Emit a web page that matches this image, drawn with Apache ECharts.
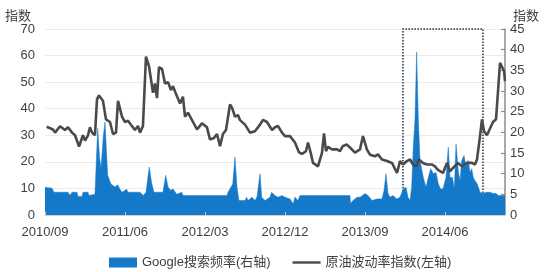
<!DOCTYPE html>
<html>
<head>
<meta charset="utf-8">
<script src="https://cdn.jsdelivr.net/npm/echarts@6/dist/echarts.min.js"></script>
<style>
html,body{margin:0;padding:0;background:#fff;}
#chart{width:550px;height:272px;}
</style>
</head>
<body>
<div id="chart"></div>
<script>
// x values are months since 2010/09
var xTickLabels = ['2010/09', '2011/06', '2012/03', '2012/12', '2013/09', '2014/06'];
var xTickStep = 9;
var xEnd = 51.75;

var leftTicks = [0, 10, 20, 30, 40, 50, 60, 70];
var rightTicks = [0, 5, 10, 15, 20, 25, 30, 35, 40, 45];

// 原油波动率指数 (left axis)
var oilT = [0.19,0.9,1.13,1.69,2.25,2.59,3.04,3.38,3.83,4.27,4.5,4.84,5.06,5.29,5.62,5.85,6.07,6.52,6.86,7.31,7.65,7.99,8.21,8.32,8.66,9.0,9.34,9.67,10.12,10.46,10.69,11.02,11.36,11.7,12.15,12.37,12.6,12.82,13.16,13.5,13.84,14.17,14.4,14.74,15.19,15.52,15.75,16.09,16.65,17.1,17.66,18.22,18.56,19.01,19.35,19.69,20.02,20.36,20.81,21.04,21.37,21.71,21.94,22.16,22.5,23.06,23.62,24.19,24.52,24.97,25.54,25.87,26.21,26.66,27.0,27.56,28.12,28.57,28.91,29.36,29.59,29.92,30.15,30.71,31.16,31.39,31.61,31.84,32.29,32.85,33.19,33.52,33.97,34.31,34.87,35.44,35.77,36.22,36.56,37.12,37.46,37.91,38.47,39.04,39.6,39.94,40.27,40.72,41.06,41.4,41.74,42.07,42.52,42.97,43.54,43.87,44.21,44.77,45.22,45.56,45.9,46.46,46.91,47.48,48.04,48.37,48.6,48.94,49.16,49.39,49.72,50.4,50.74,51.19,51.64,51.75];
var oilV = [33.2,32.2,31,33.4,32,33,31,30,25.8,30,28,30,33,31,30,43.5,45,43,36,35,30.5,31,43,42.3,37,35,35.5,34,32,33.5,31,33.5,59.6,56,46,49.5,44,55.6,55,49.5,50,47,48.5,45.5,42,44.5,37,38.5,35,32.2,34.5,33,28.4,29,30.5,25.9,30.5,32,41.6,40.4,37,37.6,35.7,36,34,31,31.5,34,35.8,35,32,33,33.5,31,29.7,29.7,27.3,23.6,23,24,27.3,23,19.6,18.3,23.4,30.7,24,25.7,24.7,24.7,24,26,26.5,25.4,23.5,24.7,29.7,24.6,22.7,22.1,22.8,20.9,20.3,19.6,15.8,20.3,19,20.3,20.9,19,18.3,20.9,19.6,19,19,18.3,17,15.8,19.6,16.4,17.7,19.6,18.3,19.6,19.6,19,20.9,29.7,36,31.5,30,35,36,57.3,54.2,50.4];

// Google搜索频率 (right axis)
var googleT = [0,0.79,1.01,2.59,2.81,3.04,3.6,3.71,4.16,4.27,4.84,4.95,5.62,5.79,5.93,6.13,6.3,6.56,6.75,7.05,7.42,7.87,8.18,8.44,8.66,9.19,9.34,10.69,11.06,11.36,11.73,12.0,12.26,13.27,13.58,13.84,14.12,14.4,14.82,15.38,15.52,15.86,20.47,20.59,21.12,21.37,21.6,21.82,22.5,22.69,22.84,23.29,23.62,23.85,24.19,24.38,24.75,25.31,25.5,25.87,26.21,26.66,27.0,27.22,27.56,27.93,28.12,28.46,28.69,34.31,34.37,34.65,35.1,35.44,36.0,36.34,36.79,37.35,37.91,38.14,38.36,38.59,38.81,39.15,39.57,39.94,40.31,40.61,40.84,41.06,41.25,41.43,41.62,41.81,42.0,42.19,42.56,42.86,43.12,43.39,43.68,43.99,44.25,44.51,44.77,45.11,45.37,45.56,45.84,46.05,46.24,46.5,46.69,46.88,47.14,47.36,47.62,47.81,48.0,48.18,48.37,48.63,48.94,49.31,49.61,50.06,50.43,50.74,51.0,51.75];
var googleV = [6.7,6.5,5.5,5.5,4.7,5.5,5.5,4.5,4.5,5.5,5.5,4.7,5,5,21,14,11.3,19,22.5,9.6,7.5,6.8,7.3,6.2,5.5,6.2,5.5,5.5,4.7,5.5,11.6,7.7,5.5,5.5,9.6,6.8,6,6.3,5,5.5,4.7,4.7,4.7,5.5,7.5,14,6.7,3.5,3.5,4.3,3.5,4.3,3.5,4.4,10,4.3,3.5,4.3,5.5,4.7,4.3,4.7,4.3,4.7,3.9,2.7,4.3,3.5,4.7,4.7,2.8,3.5,4.3,4.3,5.2,4.7,3.5,3.9,3.9,5.9,10,5.2,4.3,4.7,3.9,4.3,6.3,6.7,4.3,3.5,6.7,16.4,22.9,39.4,22.9,13.2,9.1,6.7,9.1,11.2,10,10.3,7.5,6.3,6.3,9.1,16.4,9.1,9.1,6.3,17.2,10.5,8.3,13.2,14.4,11.8,13.2,10.3,11.2,9.1,8.3,7.5,5.5,5.2,5.5,5.5,5.2,5.2,4.7,4.7];

// highlighted period (months since 2010/09)
var boxRange = [40.27, 49.27];

var seriesNames = ['Google搜索频率(右轴)', '原油波动率指数(左轴)'];
var axisName = '指数';

function zip(a, b) { return a.map(function (t, i) { return [t, b[i]]; }); }

var FONT = "'Liberation Sans', Arial, 'Noto Sans CJK SC', sans-serif";
var BLUE = '#1479c9';
var GREY = '#4a4a4a';
var chart = echarts.init(document.getElementById('chart'), null, {renderer: 'canvas'});
chart.setOption({
  animation: false,
  backgroundColor: '#ffffff',
  textStyle: {fontFamily: FONT},
  grid: {left: 45, right: 45, top: 29, bottom: 57},
  legend: {
    left: 104, top: 251,
    itemWidth: 28, itemHeight: 10, itemGap: 22,
    textStyle: {fontFamily: FONT, fontSize: 13, color: '#404040'},
    data: [
      {name: seriesNames[0], icon: 'rect'},
      {name: seriesNames[1], icon: 'path://M0,0 L30,0 L30,2.6 L0,2.6 Z', itemStyle: {color: GREY}}
    ]
  },
  xAxis: {
    type: 'value', min: 0, max: xEnd, interval: xTickStep, z: 10,
    axisLine: {show: true, lineStyle: {color: '#d0d0d0', width: 1}},
    axisTick: {show: true, inside: true, length: 3, lineStyle: {color: '#c8c8c8'}},
    splitLine: {show: false},
    axisLabel: {
      fontSize: 13, color: '#404040', margin: 11, fontFamily: FONT,
      showMaxLabel: false,
      formatter: function (v) {
        var k = Math.round(v / xTickStep);
        if (Math.abs(v - k * xTickStep) > 1e-6) return '';
        return xTickLabels[k] || '';
      }
    }
  },
  yAxis: [{
    type: 'value', min: leftTicks[0], max: leftTicks[leftTicks.length - 1], interval: leftTicks[1] - leftTicks[0],
    position: 'left',
    name: axisName, nameLocation: 'end', nameGap: 6,
    nameTextStyle: {fontSize: 13, color: '#404040', align: 'right', padding: [0, 14, 0, 0], fontFamily: FONT},
    axisLine: {show: false}, axisTick: {show: false},
    axisLabel: {fontSize: 13, color: '#404040', margin: 10, fontFamily: FONT},
    splitLine: {show: true, lineStyle: {color: '#ebebeb', width: 1}}
  }, {
    type: 'value', min: rightTicks[0], max: rightTicks[rightTicks.length - 1], interval: rightTicks[1] - rightTicks[0],
    position: 'right',
    name: axisName, nameLocation: 'end', nameGap: 6,
    nameTextStyle: {fontSize: 13, color: '#404040', align: 'left', padding: [0, 0, 0, 8], fontFamily: FONT},
    axisLine: {show: true, lineStyle: {color: '#8c8c8c', width: 1.5}},
    axisTick: {show: true, inside: true, length: 4, lineStyle: {color: '#8c8c8c', width: 1.2}},
    axisLabel: {fontSize: 13, color: '#404040', margin: 5, fontFamily: FONT},
    splitLine: {show: false}
  }],
  series: [{
    name: seriesNames[0], type: 'line', yAxisIndex: 1,
    data: zip(googleT, googleV),
    symbol: 'none', z: 2,
    lineStyle: {width: 0.5, color: BLUE},
    itemStyle: {color: BLUE},
    areaStyle: {color: BLUE, opacity: 1}
  }, {
    name: seriesNames[1], type: 'line', yAxisIndex: 0,
    data: zip(oilT, oilV),
    symbol: 'none', z: 4,
    lineStyle: {width: 2.6, color: GREY},
    itemStyle: {color: GREY},
    markArea: {
      silent: true,
      itemStyle: {color: 'rgba(0,0,0,0)', borderColor: '#1d2b4a', borderWidth: 1.5, borderType: [1.5, 1.5]},
      data: [[{xAxis: boxRange[0], yAxis: leftTicks[0]}, {xAxis: boxRange[1], yAxis: leftTicks[leftTicks.length - 1]}]]
    }
  }]
});
</script>
</body>
</html>
